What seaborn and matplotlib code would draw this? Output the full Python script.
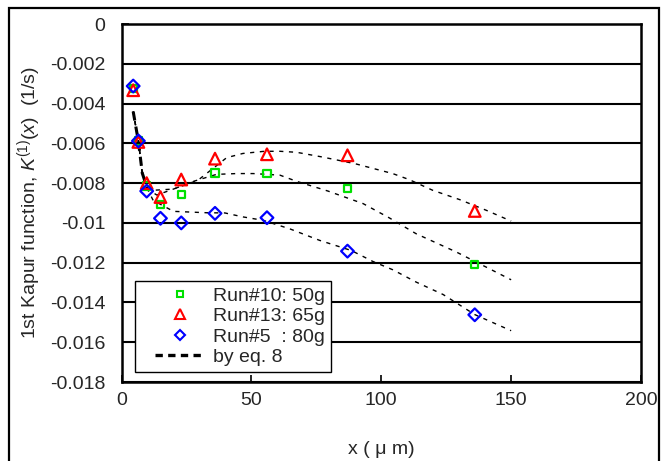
import numpy as np
import pandas as pd
import matplotlib
matplotlib.use("Agg")
import matplotlib.pyplot as plt
import seaborn as sns
from matplotlib.lines import Line2D
from matplotlib.patches import Rectangle
from matplotlib.legend_handler import HandlerLine2D

# ---- data ----
x_pts = [4.5, 6.5, 9.7, 15, 23, 36, 56, 87, 136]
run10 = [-0.00324, -0.00588, -0.00815, -0.00908, -0.00858, -0.0075, -0.00752, -0.00828, -0.01208]
run13 = [-0.00333, -0.00593, -0.00800, -0.00870, -0.00782, -0.00677, -0.00655, -0.00660, -0.00940]
run5 = [-0.00312, -0.00588, -0.00840, -0.00977, -0.01000, -0.00952, -0.00974, -0.01142, -0.01462]

fit13_x = [4.5, 6.5, 8, 10, 13.6, 20, 29.4, 40.5, 46.7, 55, 61, 67.4, 77, 89.8, 104.4, 110.7, 119.8, 130.2, 140.5, 150]
fit13_y = [-0.0044, -0.0059, -0.0075, -0.0083, -0.0086, -0.0083, -0.00786, -0.00672, -0.00651, -0.0064, -0.0064, -0.00645,
           -0.00668, -0.00702, -0.00752, -0.00782, -0.00836, -0.00883, -0.00937, -0.00991]
fit10_x = [4.5, 6.5, 8, 10, 12.2, 20, 28, 36.6, 44.3, 50.7, 61, 67.4, 79.5, 93, 103, 113.5, 129, 140.5, 150]
fit10_y = [-0.0044, -0.0059, -0.0075, -0.0083, -0.00836, -0.0083, -0.0079, -0.00756, -0.00752, -0.00752, -0.0076, -0.00791,
           -0.0084, -0.00903, -0.00974, -0.01055, -0.01147, -0.01223, -0.01286]
fit5_x = [4.5, 6.5, 8, 10, 12.2, 20, 32.8, 39.8, 46.8, 54.5, 64.8, 76.3, 88.5, 96.8, 104.5, 113.5, 123.8, 136, 150]
fit5_y = [-0.0044, -0.0059, -0.0075, -0.0083, -0.00887, -0.00942, -0.00949, -0.0095, -0.0097, -0.00987, -0.0103,
          -0.01088, -0.01139, -0.01194, -0.01236, -0.01298, -0.0136, -0.01461, -0.01542]

y_ticks = [0, -0.002, -0.004, -0.006, -0.008, -0.01, -0.012, -0.014, -0.016, -0.018]
y_tick_labels = ["0", "-0.002", "-0.004", "-0.006", "-0.008", "-0.01", "-0.012", "-0.014", "-0.016", "-0.018"]
x_ticks = [0, 50, 100, 150, 200]
legend_labels = ["Run#10: 50g", "Run#13: 65g", "Run#5  : 80g", "by eq. 8"]

# ---- style ----
sns.set_theme(style="white")
plt.rcParams["font.family"] = ["Liberation Sans", "DejaVu Sans"]
plt.rcParams["mathtext.fontset"] = "custom"
plt.rcParams["mathtext.rm"] = "Liberation Sans"
plt.rcParams["mathtext.it"] = "Liberation Sans:italic"

FS = 14

fig = plt.figure(figsize=(6.65, 4.61), dpi=100)
ax = fig.add_axes([121.5 / 665, 1 - 382 / 461, (641 - 121.5) / 665, (382 - 24) / 461])

# outer frame
fig.patches.append(Rectangle((9 / 665, -0.05), (659 - 9) / 665, (1 - 8 / 461) + 0.05,
                             transform=fig.transFigure, fill=False, edgecolor="black",
                             linewidth=1.6, zorder=0))

# grid lines
for yv in y_ticks[1:]:
    ax.axhline(yv, color="black", linewidth=1.5, zorder=1)

# fitted curves
for fx, fy in [(fit13_x, fit13_y), (fit10_x, fit10_y), (fit5_x, fit5_y)]:
    d = pd.DataFrame({"x": fx, "y": fy})
    sns.lineplot(data=d, x="x", y="y", ax=ax, color="black", linewidth=1.0,
                 linestyle=(0, (3, 4)), sort=False, zorder=2, estimator=None)
# thick steep start
start = pd.DataFrame({"x": fit13_x[:4], "y": fit13_y[:4]})
sns.lineplot(data=start, x="x", y="y", ax=ax, color="black", linewidth=2.2,
             linestyle=(0, (3, 2)), sort=False, zorder=2, estimator=None)

pts = pd.DataFrame({"x": x_pts * 3, "y": run10 + run13 + run5,
                    "run": [legend_labels[0]] * 9 + [legend_labels[1]] * 9 + [legend_labels[2]] * 9})
styles = {legend_labels[0]: dict(marker="s", color="#00e000", s=28),
          legend_labels[1]: dict(marker="^", color="#ff0000", s=70),
          legend_labels[2]: dict(marker="D", color="#0000ff", s=42)}
for name, st in styles.items():
    sub = pts[pts["run"] == name]
    sns.scatterplot(data=sub, x="x", y="y", ax=ax, marker=st["marker"], s=st["s"],
                    facecolors="none", edgecolor=st["color"], linewidth=1.6, zorder=4,
                    legend=False)

ax.set_xlim(0, 200)
ax.set_ylim(-0.018, 0)
ax.set_xticks(x_ticks)
ax.set_xticklabels([str(v) for v in x_ticks])
ax.set_yticks(y_ticks)
ax.set_yticklabels(y_tick_labels)
ax.tick_params(axis="both", direction="in", length=5, width=1.2, labelsize=FS, color="black",
               left=True, bottom=True)
ax.tick_params(axis="y", pad=11.5)
ax.tick_params(axis="x", pad=7)
for sp in ax.spines.values():
    sp.set_color("black")
    sp.set_linewidth(1.8)

ax.set_xlabel("x ( \u03bc m)", fontsize=FS, labelpad=23)
ax.set_ylabel(r"1st Kapur function, $\mathit{K}^{(1)}\mathit{(x)}$  (1/s)", fontsize=FS, labelpad=5)


class PartialHandler(HandlerLine2D):
    """Line handle drawn over the right part of the handle box only."""
    frac = 0.22

    def create_artists(self, legend, orig_handle, xdescent, ydescent, width, height, fontsize, trans):
        shift = width * self.frac
        return super().create_artists(legend, orig_handle, xdescent - shift, ydescent,
                                      width - shift, height, fontsize, trans)


handles = [
    Line2D([], [], linestyle="none", marker="s", markersize=4.5, markerfacecolor="none",
           markeredgecolor="#00e000", markeredgewidth=1.5),
    Line2D([], [], linestyle="none", marker="^", markersize=7, markerfacecolor="none",
           markeredgecolor="#ff0000", markeredgewidth=1.5),
    Line2D([], [], linestyle="none", marker="D", markersize=5.5, markerfacecolor="none",
           markeredgecolor="#0000ff", markeredgewidth=1.5),
    Line2D([], [], color="black", linewidth=2.4, linestyle=(0, (2.2, 1.6))),
]
leg = ax.legend(handles, legend_labels, loc="lower left", bbox_to_anchor=(0.026, 0.028), borderaxespad=0,
                fontsize=FS, frameon=True, fancybox=False, edgecolor="black", framealpha=1,
                handlelength=3.3, handletextpad=0.4, labelspacing=0.15, borderpad=0.3,
                handler_map={Line2D: PartialHandler(numpoints=1)})
leg.get_frame().set_linewidth(1.0)
leg.set_zorder(5)

fig.savefig("out.png", dpi=100)
